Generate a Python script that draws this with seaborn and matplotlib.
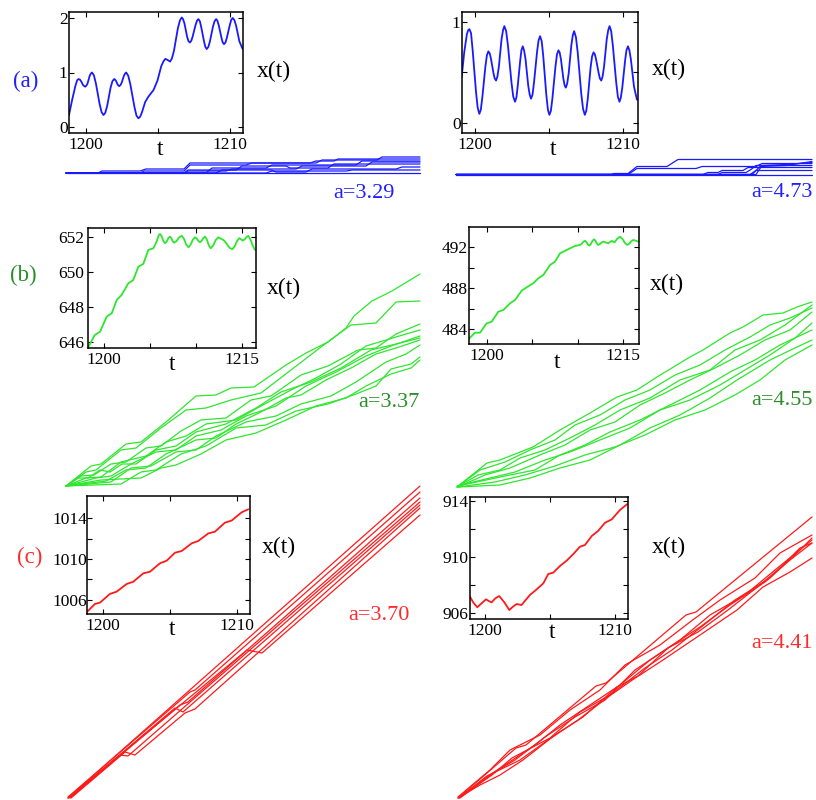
import numpy as np
import pandas as pd
import matplotlib
matplotlib.use("Agg")
import matplotlib.pyplot as plt
import seaborn as sns

# ---------------------------------------------------------------- data
# inset time series: (time, position) pairs
inset_a1 = [(1198.8, 0.22), (1199.02, 0.5), (1199.25, 0.76), (1199.37, 0.86), (1199.47, 0.88),
            (1199.55, 0.87), (1199.62, 0.85), (1199.78, 0.77), (1199.86, 0.75), (1199.93, 0.74),
            (1200.01, 0.76), (1200.09, 0.8), (1200.24, 0.94), (1200.32, 0.98), (1200.4, 1.0),
            (1200.53, 0.95), (1200.67, 0.8), (1200.93, 0.42), (1201.07, 0.27), (1201.2, 0.22),
            (1201.32, 0.26), (1201.45, 0.38), (1201.69, 0.72), (1201.82, 0.84), (1201.94, 0.88),
            (1202.0, 0.87), (1202.06, 0.85), (1202.18, 0.78), (1202.24, 0.76), (1202.3, 0.75),
            (1202.38, 0.77), (1202.46, 0.81), (1202.62, 0.94), (1202.7, 0.98), (1202.78, 1.0),
            (1202.92, 0.94), (1203.06, 0.79), (1203.35, 0.37), (1203.49, 0.21), (1203.63, 0.16),
            (1203.75, 0.19), (1203.86, 0.26), (1204.1, 0.46), (1204.33, 0.56), (1204.68, 0.68),
            (1204.95, 0.85), (1205.22, 1.12), (1205.38, 1.21), (1205.5, 1.25), (1205.66, 1.23),
            (1205.83, 1.2), (1205.96, 1.26), (1206.1, 1.4), (1206.37, 1.81), (1206.52, 1.96),
            (1206.64, 2.01), (1206.73, 1.98), (1206.83, 1.9), (1207.01, 1.66), (1207.1, 1.58),
            (1207.2, 1.55), (1207.3, 1.58), (1207.4, 1.66), (1207.6, 1.87), (1207.7, 1.95),
            (1207.8, 1.98), (1207.9, 1.94), (1207.99, 1.84), (1208.19, 1.57), (1208.28, 1.47),
            (1208.38, 1.43), (1208.49, 1.47), (1208.6, 1.57), (1208.81, 1.84), (1208.92, 1.94),
            (1209.03, 1.98), (1209.12, 1.95), (1209.21, 1.87), (1209.4, 1.64), (1209.49, 1.55),
            (1209.58, 1.52), (1209.68, 1.55), (1209.78, 1.64), (1209.99, 1.88), (1210.09, 1.97),
            (1210.19, 2.0), (1210.3, 1.96), (1210.42, 1.86), (1210.65, 1.57), (1210.88, 1.43)]
inset_a2 = [(1199.1, 0.46), (1199.27, 0.7), (1199.45, 0.88), (1199.54, 0.92), (1199.62, 0.93),
            (1199.73, 0.89), (1199.84, 0.72), (1200.07, 0.3), (1200.18, 0.15), (1200.29, 0.09),
            (1200.39, 0.13), (1200.49, 0.25), (1200.7, 0.56), (1200.8, 0.67), (1200.9, 0.71),
            (1200.99, 0.69), (1201.07, 0.64), (1201.25, 0.49), (1201.33, 0.44), (1201.42, 0.42),
            (1201.51, 0.46), (1201.61, 0.56), (1201.79, 0.83), (1201.89, 0.92), (1201.98, 0.96),
            (1202.1, 0.91), (1202.22, 0.77), (1202.46, 0.4), (1202.58, 0.26), (1202.7, 0.21),
            (1202.79, 0.25), (1202.87, 0.35), (1203.05, 0.62), (1203.13, 0.72), (1203.22, 0.76),
            (1203.31, 0.72), (1203.41, 0.63), (1203.59, 0.37), (1203.69, 0.28), (1203.78, 0.24),
            (1203.88, 0.28), (1203.98, 0.4), (1204.19, 0.71), (1204.29, 0.82), (1204.39, 0.86),
            (1204.5, 0.81), (1204.6, 0.67), (1204.81, 0.28), (1204.92, 0.13), (1205.02, 0.08),
            (1205.12, 0.12), (1205.22, 0.24), (1205.43, 0.56), (1205.53, 0.68), (1205.63, 0.72),
            (1205.71, 0.7), (1205.8, 0.63), (1205.96, 0.44), (1206.05, 0.37), (1206.13, 0.35),
            (1206.22, 0.39), (1206.32, 0.49), (1206.5, 0.77), (1206.6, 0.87), (1206.69, 0.91),
            (1206.81, 0.85), (1206.93, 0.7), (1207.17, 0.29), (1207.29, 0.14), (1207.41, 0.08),
            (1207.51, 0.12), (1207.61, 0.24), (1207.8, 0.55), (1207.9, 0.66), (1208.0, 0.70),
            (1208.09, 0.68), (1208.17, 0.63), (1208.35, 0.49), (1208.43, 0.44), (1208.52, 0.42),
            (1208.61, 0.46), (1208.71, 0.56), (1208.89, 0.83), (1208.99, 0.92), (1209.08, 0.96),
            (1209.19, 0.91), (1209.3, 0.77), (1209.53, 0.4), (1209.64, 0.26), (1209.75, 0.21),
            (1209.84, 0.25), (1209.94, 0.35), (1210.13, 0.62), (1210.22, 0.72), (1210.32, 0.76),
            (1210.42, 0.72), (1210.52, 0.63), (1210.73, 0.36), (1210.93, 0.23)]
inset_b1 = [(1198.3, 645.73), (1199.0, 646.4), (1199.57, 646.59), (1200.29, 647.45), (1200.84, 647.64),
            (1201.38, 648.4), (1201.92, 648.69), (1202.64, 649.35), (1203.18, 649.54), (1203.73, 650.3),
            (1204.27, 650.46), (1204.82, 651.26), (1205.36, 651.35), (1205.72, 651.73), (1205.95, 652.1),
            (1206.09, 652.17), (1206.27, 652.04), (1206.45, 651.77), (1206.63, 651.64), (1206.81, 651.73),
            (1206.99, 651.93), (1207.17, 652.02), (1207.32, 651.93), (1207.46, 651.76), (1207.61, 651.67),
            (1207.89, 651.77), (1208.16, 651.97), (1208.44, 652.07), (1208.68, 651.91), (1208.93, 651.57),
            (1209.17, 651.41), (1209.41, 651.55), (1209.65, 651.84), (1209.89, 651.98), (1210.07, 651.91),
            (1210.25, 651.77), (1210.43, 651.7), (1210.61, 651.78), (1210.8, 651.94), (1210.98, 652.02),
            (1211.18, 651.85), (1211.39, 651.52), (1211.59, 651.35), (1211.87, 651.51), (1212.14, 651.82),
            (1212.42, 651.98), (1212.72, 651.9), (1213.04, 651.8), (1213.35, 651.6), (1213.65, 651.38),
            (1213.95, 651.3), (1214.2, 651.46), (1214.46, 651.77), (1214.71, 651.93), (1214.9, 651.86),
            (1215.08, 651.79), (1215.28, 651.86), (1215.48, 651.99), (1215.68, 652.06), (1215.92, 651.86),
            (1216.17, 651.5), (1216.41, 651.26)]
inset_b2 = [(1198.05, 483.09), (1198.68, 483.64), (1199.23, 483.64), (1199.97, 484.56), (1200.52, 484.71),
            (1201.25, 485.69), (1201.8, 485.85), (1202.54, 486.5), (1203.09, 486.83), (1203.83, 487.74),
            (1204.38, 488.07), (1205.1, 488.46), (1205.66, 488.95), (1206.21, 489.27), (1206.95, 490.24),
            (1207.5, 490.57), (1208.05, 491.38), (1208.79, 491.71), (1209.7, 492.1), (1210.25, 492.2),
            (1210.43, 492.3), (1210.62, 492.51), (1210.8, 492.61), (1210.96, 492.49), (1211.12, 492.25),
            (1211.28, 492.13), (1211.45, 492.29), (1211.63, 492.6), (1211.8, 492.75), (1211.96, 492.61),
            (1212.11, 492.34), (1212.27, 492.2), (1212.45, 492.28), (1212.64, 492.44), (1212.82, 492.52),
            (1213.0, 492.48), (1213.19, 492.4), (1213.37, 492.36), (1213.75, 492.6), (1214.05, 492.45),
            (1214.35, 492.8), (1214.66, 493.0), (1214.93, 492.8), (1215.2, 492.4), (1215.47, 492.2),
            (1215.69, 492.32), (1215.91, 492.56), (1216.13, 492.68), (1216.4, 492.62), (1216.68, 492.52)]
inset_c1 = [(1198.83, 1004.86), (1199.4, 1005.61), (1199.78, 1005.74), (1200.52, 1006.59), (1201.02, 1006.81),
            (1201.77, 1007.56), (1202.26, 1007.78), (1203.01, 1008.6), (1203.51, 1008.76), (1204.25, 1009.58),
            (1204.75, 1009.83), (1205.37, 1010.61), (1205.87, 1010.78), (1206.62, 1011.53), (1207.11, 1011.76),
            (1207.86, 1012.5), (1208.36, 1012.67), (1209.1, 1013.55), (1209.6, 1013.75), (1210.35, 1014.56),
            (1210.84, 1014.85)]
inset_c2 = [(1198.85, 907.16), (1199.1, 906.75), (1199.41, 906.41), (1199.75, 906.7), (1200.08, 906.98),
            (1200.3, 906.85), (1200.51, 906.76), (1200.8, 907.05), (1201.1, 907.21), (1201.5, 906.75),
            (1201.87, 906.21), (1202.15, 906.45), (1202.44, 906.64), (1202.82, 906.57), (1203.15, 906.95),
            (1203.46, 907.29), (1203.98, 907.69), (1204.49, 908.12), (1204.87, 908.79), (1205.25, 908.88),
            (1205.77, 909.36), (1206.28, 909.74), (1206.79, 910.21), (1207.31, 910.74), (1207.69, 910.86),
            (1208.21, 911.5), (1208.72, 911.88), (1209.23, 912.45), (1209.75, 912.69), (1210.38, 913.36),
            (1210.95, 913.79)]

# trajectories of several walkers: (time, displacement) in arbitrary units
walkers_a1 = [
    [(0, 0), (354, 0)],
    [(0, 0), (32, 0), (36, 2), (74, 2), (80, 4), (118, 4), (124, 10), (244, 10), (250, 12), (268, 12), (272, 14), (354, 14)],
    [(0, 0), (74, 0), (78, 2), (118, 2), (124, 8), (180, 8), (186, 10), (250, 10), (256, 13), (311, 13), (316, 16), (354, 16)],
    [(0, 0), (118, 0), (122, 3), (170, 3), (176, 7), (220, 7), (224, 5), (262, 5), (268, 9), (354, 9)],
    [(0, 0), (118, 0), (122, 2), (160, 2), (166, 4), (230, 4), (236, 7), (300, 7), (306, 11), (354, 11)],
    [(0, 0), (150, 0), (156, 3), (205, 3), (210, 1), (240, 1), (246, 4), (330, 4), (336, 6), (354, 6)],
    [(0, 0), (200, 0), (206, 2), (280, 2), (286, 3), (354, 3)],
    [(0, 0), (140, 0), (146, 5), (200, 5), (206, 8), (290, 8), (296, 12), (354, 12)],
]
walkers_a2 = [
    [(0, 0), (356, 0)],
    [(0, 0), (155, 0), (158, 1), (172, 1), (181, 8), (211, 8), (222, 15), (356, 15)],
    [(0, 0), (172, 0), (181, 6), (240, 6), (246, 8), (300, 8), (306, 11), (356, 11)],
    [(0, 0), (247, 0), (252, 2), (262, 2), (266, 4), (287, 4), (292, 7), (356, 7)],
    [(0, 0), (262, 0), (266, 2), (290, 2), (295, 5), (300, 9), (356, 9)],
    [(0, 0), (294, 0), (300, 4), (356, 4)],
    [(0, 0), (296, 0), (304, 8), (330, 9), (356, 13)],
    [(0, 0), (300, 0), (306, 9), (330, 10), (356, 12)],
]
walkers_b1 = [
    [(0, 0), (25, 20), (35, 22), (60, 42), (75, 44), (100, 64), (130, 90), (150, 91), (165, 98), (188, 99),
     (220, 121), (240, 133), (262, 144), (280, 158), (288, 170), (306, 185), (326, 195), (354, 212)],
    [(0, 0), (20, 14), (30, 16), (55, 36), (70, 38), (95, 58), (120, 76), (140, 78), (165, 86), (195, 93),
     (225, 116), (255, 139), (285, 161), (310, 163), (330, 184), (354, 185)],
    [(0, 0), (15, 10), (28, 11), (45, 22), (60, 24), (80, 38), (95, 40), (115, 55), (135, 66), (160, 68),
     (185, 86), (205, 90), (235, 111), (262, 120), (292, 136), (310, 138), (330, 152), (354, 162)],
    [(0, 0), (20, 8), (35, 9), (55, 24), (80, 30), (100, 44), (120, 50), (140, 62), (170, 66), (195, 80),
     (225, 96), (250, 108), (275, 122), (300, 140), (320, 146), (340, 152), (354, 156)],
    [(0, 0), (30, 8), (45, 10), (65, 22), (90, 34), (110, 36), (130, 50), (155, 56), (180, 70), (210, 80),
     (240, 100), (270, 114), (300, 130), (325, 140), (354, 150)],
    [(0, 0), (40, 5), (60, 16), (80, 18), (100, 32), (130, 46), (150, 48), (170, 62), (195, 74), (220, 88),
     (235, 91), (260, 106), (285, 118), (310, 132), (330, 138), (354, 146)],
    [(0, 0), (45, 4), (65, 18), (85, 20), (110, 34), (130, 36), (150, 50), (180, 64), (210, 70), (235, 82),
     (265, 90), (290, 104), (320, 124), (340, 132), (354, 141)],
    [(0, 0), (55, 2), (75, 14), (90, 16), (115, 32), (140, 40), (170, 58), (200, 61), (230, 75), (262, 82),
     (290, 92), (310, 100), (325, 117), (345, 122), (354, 129)],
    [(0, 0), (35, 6), (75, 8), (95, 18), (110, 21), (135, 32), (160, 46), (190, 53), (220, 66), (250, 80),
     (280, 88), (300, 100), (325, 112), (345, 118), (354, 126)],
    [(0, 0), (12, 8), (22, 8), (34, 16), (44, 14), (56, 22), (70, 22), (90, 36), (110, 40), (130, 54),
     (160, 62), (190, 78), (215, 94), (245, 104), (275, 118), (305, 136), (330, 142), (354, 148)],
]
walkers_b2 = [
    [(1, 0), (31, 24), (44, 27), (77, 40), (104, 57), (134, 74), (161, 90), (181, 97), (201, 110), (234, 130),
     (247, 137), (274, 154), (287, 160), (307, 172), (327, 174), (341, 180), (356, 185)],
    [(1, 0), (24, 17), (49, 25), (74, 37), (99, 47), (119, 62), (144, 72), (169, 87), (194, 97), (219, 112),
     (244, 122), (269, 137), (294, 150), (314, 162), (334, 169), (356, 179)],
    [(2, 0), (29, 12), (54, 19), (84, 32), (109, 42), (134, 57), (159, 65), (184, 82), (209, 94), (234, 107),
     (259, 119), (284, 132), (309, 147), (334, 157), (356, 175)],
    [(1, 1), (34, 9), (59, 15), (89, 27), (114, 35), (144, 47), (174, 59), (204, 77), (234, 87), (264, 102),
     (289, 117), (314, 132), (339, 149), (356, 164)],
    [(2, 0), (39, 5), (69, 12), (99, 21), (129, 32), (159, 40), (189, 52), (219, 67), (249, 77), (279, 92),
     (304, 107), (329, 127), (356, 142)],
    [(2, 0), (44, 2), (74, 9), (104, 19), (134, 27), (164, 42), (194, 59), (224, 72), (254, 89), (281, 107),
     (314, 127), (341, 140), (356, 147)],
    [(1, 0), (22, 12), (44, 17), (64, 29), (89, 37), (114, 49), (139, 62), (164, 77), (194, 89), (224, 107),
     (254, 117), (279, 137), (304, 147), (329, 162), (356, 182)],
    [(2, 1), (49, 11), (79, 17), (104, 32), (129, 42), (154, 55), (184, 67), (214, 82), (244, 97), (274, 115),
     (299, 127), (324, 142), (356, 157)],
]
walkers_c1 = [
    [(2, 0), (354, 312)],
    [(2, 1), (124, 106), (129, 108), (354, 306)],
    [(4, 0), (114, 93), (122, 96), (354, 300)],
    [(3, 0), (54, 43), (62, 42), (354, 296)],
    [(4, 1), (109, 90), (117, 86), (354, 293)],
    [(2, 0), (181, 148), (196, 145), (354, 283)],
    [(5, 0), (59, 46), (69, 43), (119, 85), (129, 89), (354, 290)],
]
walkers_c2 = [
    [(2, 0), (60, 50), (70, 53), (140, 112), (150, 115), (230, 183), (240, 186), (356, 281)],
    [(2, 1), (34, 28), (54, 48), (84, 63), (114, 88), (144, 108), (169, 133), (204, 153), (234, 176),
     (264, 198), (299, 220), (324, 245), (356, 263)],
    [(4, 0), (39, 26), (59, 38), (89, 61), (119, 81), (149, 98), (179, 128), (209, 148), (244, 171),
     (274, 193), (309, 216), (334, 238), (356, 255)],
    [(3, 0), (29, 20), (49, 33), (79, 53), (104, 73), (134, 93), (164, 113), (194, 138), (224, 158),
     (254, 183), (289, 203), (319, 228), (356, 258)],
    [(2, 0), (24, 13), (44, 23), (67, 38), (99, 63), (127, 81), (161, 111), (184, 123), (207, 138),
     (247, 165), (281, 188), (307, 211), (334, 226), (356, 240)],
    [(4, 1), (36, 23), (56, 40), (94, 60), (124, 86), (154, 103), (189, 130), (216, 148), (244, 170),
     (279, 198), (314, 220), (344, 250), (356, 255)],
    [(3, 0), (31, 22), (64, 38), (92, 58), (122, 78), (152, 101), (182, 122), (212, 150), (242, 166),
     (272, 188), (304, 213), (339, 243), (356, 260)],
]

a_values = ["a=3.29", "a=4.73", "a=3.37", "a=4.55", "a=3.70", "a=4.41"]
panel_letters = ["(a)", "(b)", "(c)"]

# ---------------------------------------------------------------- style
sns.set_theme(style="white")
plt.rcParams["font.family"] = ["Liberation Serif", "DejaVu Serif"]
for k in ("text.color", "axes.labelcolor", "xtick.color", "ytick.color", "axes.edgecolor"):
    plt.rcParams[k] = "black"

BLUE, GREEN, RED = "#1a1aff", "#2ee62e", "#ff1a1a"
BLUE_T, GREEN_T, RED_T = "#2020ff", "#2a8f2a", "#ff2a2a"

W_PX, H_PX = 816, 800
fig = plt.figure(figsize=(W_PX / 100, H_PX / 100), dpi=100)


def px_axes(left, top, width, height):
    return fig.add_axes([left / W_PX, 1 - (top + height) / H_PX, width / W_PX, height / H_PX])


def ftext(x, y, s, **kw):
    fig.text(x / W_PX, 1 - y / H_PX, s, **kw)


def draw_walkers(left, bottom, width, height, walkers, color):
    ax = px_axes(left, bottom - height, width, height)
    rows = [(i, t, d) for i, w in enumerate(walkers) for (t, d) in w]
    df = pd.DataFrame(rows, columns=["walker", "t", "x"])
    sns.lineplot(data=df, x="t", y="x", units="walker", estimator=None, sort=False,
                 color=color, lw=0.9, ax=ax, legend=False)
    ax.set_xlim(0, width)
    ax.set_ylim(0, height)
    ax.axis("off")
    for ln in ax.lines:
        ln.set_clip_on(False)
    return ax


def draw_inset(box, pts, color, xlim, ylim, xticks, xlabels, yticks, ylabels, ypad=1.0):
    left, top, right, bottom = box
    ax = px_axes(left, top, right - left, bottom - top)
    ax.set_facecolor("white")
    df = pd.DataFrame(sorted(pts), columns=["t", "x"])
    sns.lineplot(data=df, x="t", y="x", sort=False, estimator=None, color=color, lw=1.3, ax=ax)
    for ln in ax.lines:
        ln.set_solid_joinstyle("round")
        ln.set_solid_capstyle("round")
    ax.set_xlim(*xlim)
    ax.set_ylim(*ylim)
    ax.set_xticks(xticks)
    ax.set_xticklabels(xlabels)
    ax.set_yticks(yticks)
    ax.set_yticklabels(ylabels)
    ax.set_xlabel("")
    ax.set_ylabel("")
    ax.tick_params(direction="in", length=3.5, width=0.8, top=True, right=True,
                   bottom=True, left=True, labelsize=12.5)
    ax.tick_params(axis="x", pad=3)
    ax.tick_params(axis="y", pad=ypad)
    for s in ax.spines.values():
        s.set_visible(True)
        s.set_color("black")
        s.set_linewidth(1.1)
    return ax


# ---------------------------------------------------------------- trajectories
draw_walkers(66, 173, 354, 30, walkers_a1, BLUE)
draw_walkers(456, 174.5, 360, 30, walkers_a2, BLUE)
draw_walkers(66, 486, 354, 226, walkers_b1, GREEN)
draw_walkers(456, 487, 360, 200, walkers_b2, GREEN)
draw_walkers(66, 798, 354, 318, walkers_c1, RED)
draw_walkers(456, 798, 360, 300, walkers_c2, RED)

# ---------------------------------------------------------------- insets
draw_inset((69, 12, 243, 133), inset_a1, BLUE, (1198.8, 1210.9), (-0.11, 2.11),
           [1200, 1205, 1210], ["1200", "", "1210"], [0, 1, 2], ["0", "1", "2"])
draw_inset((462, 12, 638, 133), inset_a2, BLUE, (1199.12, 1211.0), (-0.1, 1.1),
           [1200, 1205, 1210], ["1200", "", "1210"], [0, 0.5, 1], ["0", "", "1"])
draw_inset((88, 228, 256, 348), inset_b1, GREEN, (1198.26, 1216.52), (645.66, 652.51),
           [1200, 1205, 1210, 1215], ["1200", "", "", "1215"], [646, 648, 650, 652],
           ["646", "648", "650", "652"], ypad=2.5)
draw_inset((469, 227, 639, 344), inset_b2, GREEN, (1198.02, 1216.76), (482.54, 493.95),
           [1200, 1205, 1210, 1215], ["1200", "", "", "1215"], [484, 486, 488, 490, 492],
           ["484", "", "488", "", "492"])
draw_inset((87, 496, 250, 614), inset_c1, RED, (1198.81, 1210.97), (1004.63, 1016.15),
           [1200, 1205, 1210], ["1200", "", "1210"], [1006, 1008, 1010, 1012, 1014],
           ["1006", "", "1010", "", "1014"], ypad=0.0)
draw_inset((470, 497, 628, 619), inset_c2, RED, (1198.85, 1211.0), (905.57, 914.29),
           [1200, 1205, 1210], ["1200", "", "1210"], [906, 908, 910, 912, 914],
           ["906", "", "910", "", "914"])

# ---------------------------------------------------------------- texts
for (x, y) in [(160, 155), (553, 155), (172, 370), (557, 368), (172, 635), (552, 638)]:
    ftext(x, y, "t", ha="center", va="baseline", fontsize=17)
for (x, y) in [(257, 77), (652, 75), (267, 294), (650, 290), (262, 553), (652, 553)]:
    ftext(x, y, "x(t)", ha="left", va="baseline", fontsize=17)

letter_pos = [(13, 87), (10, 281), (17, 563)]
letter_cols = [BLUE_T, GREEN_T, RED_T]
for s, (x, y), c in zip(panel_letters, letter_pos, letter_cols):
    ftext(x, y, s, ha="left", va="baseline", fontsize=16.5, color=c)

a_pos = [(395, 198), (813, 197), (420, 407), (813, 405), (410, 620), (813, 648)]
a_cols = [BLUE_T, BLUE_T, GREEN_T, GREEN_T, RED_T, RED_T]
for s, (x, y), c in zip(a_values, a_pos, a_cols):
    ftext(x, y, s, ha="right", va="baseline", fontsize=16, color=c)

fig.savefig("out.png", dpi=100, facecolor="white")
